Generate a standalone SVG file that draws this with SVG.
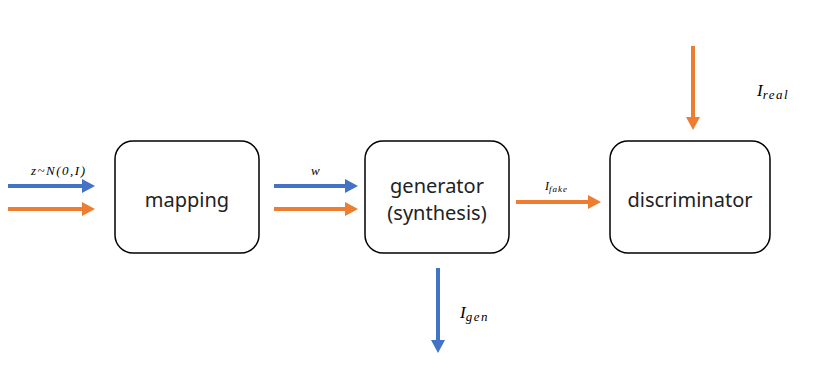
<svg xmlns="http://www.w3.org/2000/svg" width="819" height="389" viewBox="0 0 819 389">
<style>
.box{fill:#fff;stroke:#000;stroke-width:1.5}
.nt{font-family:"Noto Sans","Open Sans",sans-serif;font-size:20px;fill:#222;text-anchor:middle}
.lb{font-family:"Liberation Serif",serif;font-style:italic;fill:#000}
.b{stroke:#4472C4;stroke-width:4;fill:none}
.o{stroke:#ED7D31;stroke-width:4;fill:none}
</style>
<defs>
<marker id="hb" markerUnits="userSpaceOnUse" markerWidth="14" markerHeight="14" refX="0" refY="7" orient="auto"><path d="M0,0 L13,7 L0,14 Z" fill="#4472C4"/></marker>
<marker id="ho" markerUnits="userSpaceOnUse" markerWidth="14" markerHeight="14" refX="0" refY="7" orient="auto"><path d="M0,0 L13,7 L0,14 Z" fill="#ED7D31"/></marker>
</defs>
<rect width="819" height="389" fill="#fff"/>
<g id="mapping"><rect class="box" x="115" y="141" width="144" height="112" rx="18"/><text class="nt" x="187" y="207">mapping</text></g>
<g id="generator"><rect class="box" x="365" y="141" width="144" height="112" rx="18"/><text class="nt" x="437" y="193">generator</text><text class="nt" x="437" y="220">(synthesis)</text></g>
<g id="discriminator"><rect class="box" x="610" y="141" width="160" height="112" rx="18"/><text class="nt" x="690" y="207">discriminator</text></g>
<g id="connectors">
<line class="b" x1="8" y1="186" x2="82" y2="186" marker-end="url(#hb)"/>
<line class="o" x1="8" y1="209" x2="82" y2="209" marker-end="url(#ho)"/>
<line class="b" x1="274" y1="186" x2="345" y2="186" marker-end="url(#hb)"/>
<line class="o" x1="274" y1="209" x2="345" y2="209" marker-end="url(#ho)"/>
<line class="o" x1="516" y1="202" x2="588" y2="202" marker-end="url(#ho)"/>
<line class="b" x1="438" y1="268" x2="438" y2="340" marker-end="url(#hb)"/>
<line class="o" x1="693" y1="46" x2="693" y2="117" marker-end="url(#ho)"/>
</g>
<g id="labels">
<text class="lb" x="31" y="175" font-size="13" textLength="54" lengthAdjust="spacing">z~N(0,I)</text>
<text class="lb" x="311" y="175" font-size="13">w</text>
<text class="lb" x="545" y="190" font-size="12">I<tspan font-size="9" dy="2" letter-spacing="1">fake</tspan></text>
<text class="lb" x="460" y="318" font-size="17">I<tspan font-size="13" dy="3" letter-spacing="1.5">gen</tspan></text>
<text class="lb" x="757" y="96" font-size="17">I<tspan font-size="13" dy="3" letter-spacing="1.5">real</tspan></text>
</g>
</svg>
